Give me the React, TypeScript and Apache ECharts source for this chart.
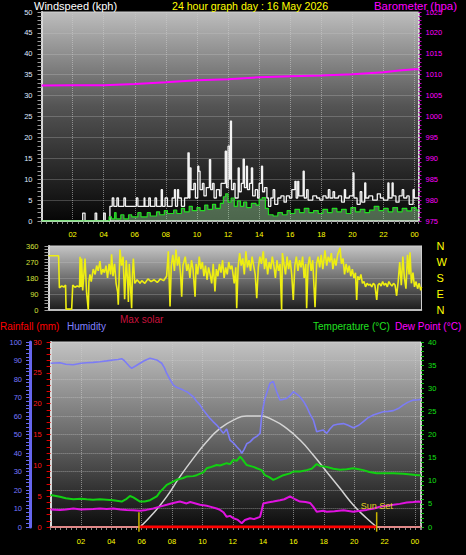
import React, { useEffect, useRef } from "react";
import * as echarts from "echarts";

// ---------- data ----------
const titleText = "24 hour graph day : 16 May 2026";

// wind gust (kph) [hour, value]
const windGust: [number, number][] = [
  [0, 0], [2.65, 1.9], [2.8, 0], [3.45, 1.9], [3.55, 0], [4.0, 1.9], [4.1, 0], [4.4, 3.5], [4.55, 5.5], [4.65, 3.5],
  [4.85, 5.5], [4.95, 3.5], [5.3, 5.5], [5.4, 3.5], [5.9, 3.5], [6.1, 5.5], [6.2, 3.5], [6.6, 5.5], [6.65, 3.5], [6.9, 5.5],
  [7.0, 3.5], [7.3, 5.5], [7.4, 3.5], [7.7, 7.5], [7.78, 3.5], [7.95, 5.5], [8.1, 3.5], [8.4, 5.5], [8.55, 7.5], [8.62, 3.5],
  [8.75, 7.5], [8.82, 5.5], [9.0, 3.5], [9.2, 5.5], [9.42, 16.3], [9.5, 5.5], [9.55, 12.7], [9.62, 7.5], [9.8, 9], [9.9, 5.5],
  [10.05, 13.1], [10.12, 11.9], [10.2, 7.5], [10.35, 9], [10.45, 6], [10.6, 8], [10.8, 14.7], [10.88, 7.5], [11.0, 9], [11.1, 5.5],
  [11.25, 7.5], [11.45, 6], [11.55, 9], [11.82, 16.7], [11.9, 8], [12.0, 17.9], [12.1, 10], [12.15, 23.9], [12.22, 7.5], [12.35, 9],
  [12.45, 5.5], [12.65, 12.7], [12.72, 7], [12.85, 9], [12.97, 14.8], [13.05, 8], [13.18, 13.1], [13.25, 7.5], [13.38, 9], [13.5, 12.7],
  [13.58, 6], [13.75, 7.5], [13.9, 5.5], [14.0, 9], [14.15, 13.1], [14.22, 7], [14.35, 8], [14.5, 5.5], [14.6, 3.5], [14.75, 5.5],
  [14.9, 7.5], [15.0, 4], [15.2, 5.5], [15.4, 6], [15.6, 4.5], [15.75, 6], [15.95, 5.5], [16.1, 7.5], [16.3, 9.5], [16.38, 5.5],
  [16.48, 9.5], [16.55, 6], [16.83, 11.9], [16.9, 5.5], [17.05, 7.5], [17.15, 5], [17.45, 6], [17.7, 5.5], [17.9, 5], [18.1, 6],
  [18.3, 5.5], [18.45, 7.5], [18.55, 5.5], [18.75, 7], [18.85, 5.5], [19.1, 6], [19.3, 4.5], [19.48, 7.5], [19.56, 5.5], [19.8, 6],
  [20.04, 11.5], [20.1, 5.5], [20.3, 4], [20.5, 7], [20.6, 4.5], [20.79, 9.1], [20.86, 5.5], [21.05, 6], [21.3, 5], [21.6, 6.5],
  [21.8, 5.5], [22.0, 5], [22.28, 9.1], [22.35, 5.5], [22.55, 9.1], [22.62, 6], [22.8, 4.5], [23.0, 6], [23.2, 7.5], [23.3, 5.5],
  [23.5, 6], [23.65, 4], [23.9, 7.5], [23.98, 5.5], [24.25, 5.5],
];

// average wind (kph)
const windAvg: [number, number][] = [
  [0, 0], [4.35, 1], [4.5, 0.5], [4.7, 2], [4.8, 0.5], [5.1, 1.5], [5.3, 0.5], [5.6, 1.5], [5.8, 1], [6.2, 2],
  [6.4, 1], [6.8, 2], [7.0, 1.2], [7.4, 2.2], [7.6, 1.5], [7.9, 2.5], [8.1, 1.8], [8.5, 2.6], [8.7, 1.8], [9.0, 3],
  [9.2, 2.2], [9.5, 3.5], [9.7, 2.5], [10.0, 3.2], [10.2, 2.5], [10.5, 3.8], [10.7, 2.8], [11.0, 4], [11.2, 3], [11.5, 4.2],
  [11.7, 5.8], [11.85, 6.5], [12.0, 4.5], [12.2, 5.5], [12.4, 3.5], [12.6, 4.8], [12.8, 3.5], [13.0, 4.5], [13.2, 3.2], [13.5, 4.2],
  [13.8, 3.8], [14.0, 5.2], [14.2, 5.6], [14.4, 3], [14.6, 1.5], [14.9, 1.2], [15.2, 2], [15.5, 1.5], [15.8, 2.5], [16.0, 1.8],
  [16.3, 2.8], [16.6, 2], [16.9, 3], [17.2, 2], [17.5, 2.5], [17.8, 1.8], [18.1, 2.8], [18.4, 2], [18.7, 3], [19.0, 2.2],
  [19.3, 2.8], [19.6, 1.8], [19.9, 3.2], [20.2, 2.2], [20.5, 2.8], [20.8, 2], [21.1, 2.6], [21.4, 3.5], [21.7, 2.5], [22.0, 3],
  [22.3, 2.2], [22.6, 3.2], [22.9, 2.2], [23.2, 3], [23.5, 2.4], [23.8, 3.2], [24.1, 2.6], [24.25, 2.6],
];

// barometer (hPa)
const barometer: [number, number][] = [
  [0, 1007.4], [2, 1007.45], [4, 1007.5], [6, 1007.8], [8, 1008.2], [10, 1008.7], [12, 1008.9], [14, 1009.4],
  [16, 1009.6], [18, 1009.8], [20, 1010.1], [22, 1010.6], [23, 1011.0], [24, 1011.3], [24.25, 1011.3],
];

// wind direction (degrees)
const windDir: [number, number][] = [
  [0, 305], [0.65, 305], [0.7, 125], [0.85, 135], [1.0, 130], [1.1, 140], [1.13, 5], [1.49, 5], [1.56, 140], [1.7, 128],
  [1.85, 135], [2.0, 130], [2.03, 300], [2.1, 130], [2.13, 290], [2.2, 110], [2.35, 290], [2.45, 100], [2.56, 0], [2.6, 160],
  [2.67, 200], [2.75, 160], [2.88, 230], [3.0, 200], [3.1, 250], [3.2, 220], [3.31, 275], [3.4, 200], [3.5, 230], [3.6, 210],
  [3.7, 250], [3.8, 180], [3.9, 260], [4.0, 200], [4.06, 313], [4.15, 190], [4.25, 260], [4.35, 150], [4.45, 100], [4.49, 30],
  [4.55, 200], [4.6, 340], [4.7, 250], [4.8, 300], [4.9, 60], [5.0, 280], [5.1, 150], [5.14, 45], [5.2, 260], [5.35, 10],
  [5.4, 200], [5.46, 290], [5.55, 150], [5.7, 170], [5.89, 150], [6.0, 165], [6.2, 150], [6.4, 175], [6.6, 160], [6.8, 170],
  [7.0, 155], [7.2, 175], [7.4, 165], [7.6, 190], [7.71, 330], [7.82, 20], [7.9, 250], [8.0, 310], [8.1, 220], [8.2, 340],
  [8.3, 250], [8.4, 300], [8.5, 200], [8.57, 75], [8.65, 250], [8.8, 300], [8.9, 220], [9.0, 260], [9.1, 180], [9.2, 280],
  [9.3, 230], [9.43, 75], [9.5, 260], [9.6, 200], [9.7, 300], [9.8, 230], [9.9, 270], [10.0, 190], [10.1, 250], [10.2, 170],
  [10.3, 240], [10.4, 200], [10.5, 150], [10.6, 260], [10.71, 105], [10.8, 230], [10.9, 190], [11.0, 260], [11.1, 210], [11.2, 280],
  [11.3, 180], [11.4, 240], [11.5, 200], [11.6, 270], [11.7, 230], [11.8, 250], [11.95, 150], [12.05, 240], [12.11, 10], [12.2, 240],
  [12.3, 320], [12.4, 250], [12.5, 290], [12.6, 200], [12.7, 330], [12.8, 240], [12.9, 280], [13.0, 220], [13.1, 300], [13.2, 250],
  [13.3, 200], [13.4, 66], [13.5, 240], [13.6, 300], [13.7, 260], [13.82, 330], [13.9, 230], [14.0, 290], [14.1, 200], [14.2, 270],
  [14.3, 230], [14.4, 300], [14.5, 250], [14.6, 180], [14.7, 280], [14.8, 220], [14.9, 260], [15.0, 0], [15.05, 320], [15.15, 260],
  [15.25, 200], [15.35, 300], [15.45, 230], [15.55, 280], [15.65, 200], [15.75, 57], [15.85, 250], [15.95, 300], [16.05, 220], [16.15, 280],
  [16.25, 240], [16.35, 300], [16.45, 180], [16.55, 260], [16.61, 10], [16.7, 250], [16.8, 300], [16.9, 220], [17.0, 280], [17.15, 15],
  [17.25, 260], [17.35, 300], [17.45, 240], [17.55, 310], [17.65, 230], [17.79, 335], [17.9, 250], [18.0, 300], [18.1, 270], [18.2, 320],
  [18.3, 230], [18.4, 290], [18.5, 250], [18.6, 310], [18.76, 350], [18.85, 260], [18.95, 290], [19.05, 200], [19.15, 260], [19.25, 210],
  [19.35, 250], [19.45, 190], [19.55, 230], [19.65, 180], [19.75, 210], [19.83, 57], [19.9, 190], [20.0, 170], [20.1, 200], [20.2, 150],
  [20.3, 160], [20.4, 130], [20.5, 150], [20.6, 140], [20.7, 145], [20.8, 130], [20.9, 150], [21.0, 140], [21.12, 57], [21.2, 140],
  [21.3, 150], [21.4, 135], [21.5, 160], [21.6, 140], [21.7, 150], [21.8, 130], [21.9, 160], [22.0, 145], [22.1, 135], [22.2, 150],
  [22.3, 140], [22.4, 80], [22.5, 160], [22.6, 270], [22.7, 140], [22.8, 300], [22.9, 180], [23.0, 120], [23.1, 310], [23.2, 200],
  [23.26, 325], [23.35, 150], [23.45, 210], [23.55, 130], [23.65, 160], [23.75, 120], [23.85, 150], [23.95, 110], [24.0, 130],
];

// humidity (%)
const humidity: [number, number][] = [
  [0, 88.5], [0.62, 88.8], [1.0, 88], [1.5, 87.7], [2.0, 88.5], [2.38, 88.8], [2.8, 89], [3.25, 89.3], [3.7, 89.8], [4.13, 90.3],
  [4.45, 90.5], [4.68, 91], [4.85, 90], [5.01, 88.5], [5.23, 86.5], [5.34, 85.8], [5.6, 87], [5.89, 88.5], [6.2, 90], [6.55, 91.2],
  [6.99, 90.3], [7.32, 88.5], [7.5, 86], [7.65, 83], [7.85, 80], [8.08, 76.8], [8.3, 75.5], [8.74, 74], [9.0, 73], [9.4, 70.4],
  [9.62, 68], [9.84, 66], [10.06, 63.2], [10.28, 61], [10.5, 58.7], [10.7, 57], [10.94, 55.1], [11.16, 53], [11.38, 50.6], [11.6, 53],
  [11.82, 47], [12.04, 45.5], [12.26, 43.4], [12.48, 41.5], [12.59, 39.8], [12.75, 42], [12.92, 45], [13.14, 46], [13.36, 47.9], [13.58, 49],
  [13.8, 50.6], [13.9, 59.6], [14.01, 65], [14.12, 69.5], [14.3, 74], [14.45, 77.7], [14.67, 78.6], [14.9, 73], [15.11, 68.6], [15.33, 69],
  [15.55, 69.5], [15.77, 71], [15.99, 73.1], [16.2, 72], [16.43, 70.4], [16.65, 68], [16.87, 65], [17.09, 61], [17.31, 57.8], [17.53, 51.5],
  [17.75, 52], [17.97, 52.4], [18.19, 50.6], [18.4, 53], [18.63, 55], [18.9, 55.5], [19.29, 55.9], [19.6, 55], [19.94, 53.7], [20.3, 55],
  [20.6, 57], [20.9, 59], [21.26, 60.5], [21.6, 61.5], [21.92, 62.3], [22.25, 62.5], [22.58, 62.9], [22.9, 64], [23.24, 66], [23.55, 67.5],
  [23.9, 68.6], [24.23, 68.8], [24.4, 69],
];

// temperature (°C)
const temperature: [number, number][] = [
  [0, 6.9], [0.62, 6.55], [1.0, 6.2], [1.5, 6.0], [2.0, 6.1], [2.38, 6.0], [2.8, 5.9], [3.25, 6.0], [3.7, 5.9], [4.13, 5.8],
  [4.68, 5.5], [5.01, 6.1], [5.23, 6.7], [5.45, 6.4], [5.89, 5.5], [6.2, 5.5], [6.55, 5.8], [6.99, 6.6], [7.21, 7.6], [7.45, 8.4],
  [7.65, 9.1], [8.08, 9.8], [8.3, 10.2], [8.74, 10.6], [8.96, 10.9], [9.4, 11.0], [9.62, 11.2], [10.06, 11.8], [10.28, 12.7], [10.5, 12.9],
  [10.94, 13.4], [11.16, 13.3], [11.6, 13.8], [11.82, 13.6], [12.04, 14.5], [12.26, 14.3], [12.48, 15.2], [12.6, 14.8], [12.92, 13.4], [13.36, 13.0],
  [13.58, 12.7], [13.9, 12.3], [14.12, 11.2], [14.4, 10.8], [14.67, 10.2], [14.9, 10.5], [15.33, 11.2], [15.77, 11.6], [15.99, 12.0], [16.43, 12.0],
  [16.87, 12.3], [17.2, 12.6], [17.53, 13.6], [17.75, 13.2], [18.19, 13.0], [18.63, 12.6], [19.07, 12.4], [19.5, 12.5], [19.94, 12.7], [20.3, 12.5],
  [20.6, 12.3], [21.0, 11.9], [21.48, 11.6], [21.92, 11.6], [22.58, 11.6], [23.24, 11.5], [23.9, 11.3], [24.23, 11.2], [24.4, 11.2],
];

// dew point (°C)
const dewPoint: [number, number][] = [
  [0, 3.8], [0.62, 3.7], [1.0, 3.8], [1.5, 4.0], [2.0, 3.8], [2.38, 3.85], [2.8, 3.9], [3.25, 4.0], [3.7, 3.9], [4.13, 4.0],
  [4.6, 3.8], [5.01, 3.7], [5.45, 3.6], [5.89, 3.5], [6.3, 3.7], [6.77, 4.0], [7.2, 4.4], [7.65, 4.8], [8.08, 5.2], [8.52, 5.5],
  [8.96, 5.1], [9.2, 5.4], [9.84, 4.8], [10.28, 4.6], [10.5, 4.4], [10.94, 4.0], [11.16, 3.7], [11.38, 3.2], [11.6, 2.2], [11.82, 2.4],
  [12.04, 1.9], [12.3, 1.6], [12.59, 0.8], [12.8, 1.5], [13.14, 1.9], [13.4, 1.7], [13.8, 2.2], [13.9, 3.5], [14.01, 5.1], [14.3, 5.3],
  [14.67, 5.5], [15.11, 5.8], [15.4, 6.0], [15.77, 6.6], [16.1, 6.0], [16.43, 5.5], [16.8, 5.4], [17.09, 5.2], [17.3, 4.4], [17.53, 3.3],
  [17.97, 3.5], [18.19, 3.3], [18.7, 3.4], [19.29, 3.6], [19.94, 3.3], [20.4, 3.5], [20.82, 3.7], [21.3, 4.0], [21.7, 4.4], [22.1, 4.6],
  [22.58, 4.8], [23.0, 5.0], [23.46, 5.3], [23.9, 5.4], [24.23, 5.5], [24.4, 5.4],
];

// max solar curve (on the humidity scale)
const maxSolar: [number, number][] = [
  [5.9, 0], [6.77, 7.4], [7.65, 16.4], [8.52, 27.2], [9.4, 37.1], [10.28, 46.1], [11.16, 53.3], [12.04, 57.8], [12.91, 60],
  [13.79, 60], [14.67, 57.8], [15.55, 53.3], [16.43, 47], [17.3, 38.9], [18.18, 29.9], [19.06, 20.9], [19.94, 11.9], [20.82, 4.7], [21.48, 0],
];

// rainfall (mm)
const rainfall: [number, number][] = [[0, 0], [6, 0], [12, 0], [18, 0], [24.4, 0]];

const sunRise = 5.82;
const sunSet = 21.48;
const compass: Record<number, string> = { 0: "N", 90: "E", 180: "S", 270: "W", 360: "N" };

// ---------- chart ----------
const FONT = '"Liberation Sans", Arial, sans-serif';

function bg(stops: [number, string][]) {
  return new echarts.graphic.LinearGradient(0, 0, 0, 1, stops.map(([offset, color]) => ({ offset, color })));
}

const dotted = { show: true, lineStyle: { type: "dotted" as const, color: "rgba(205,205,205,0.55)", width: 1 } };

function hourLabel(v: number) {
  if (Math.abs(v % 2) > 1e-6) return "";
  return String(v % 24).padStart(2, "0");
}

const plain = (v: number) => String(v);

export default function App() {
  const ref = useRef<HTMLDivElement>(null);

  useEffect(() => {
    document.body.style.margin = "0";
    document.body.style.background = "#000";
    const chart = echarts.init(ref.current!, undefined, { renderer: "svg" });

    const tickLbl = (color: string, margin: number) => ({
      color, fontSize: 7.5, fontFamily: FONT, margin, formatter: plain,
    });

    const option: any = {
      animation: false,
      backgroundColor: "#000",
      textStyle: { fontFamily: FONT },
      grid: [
        {
          left: 41.5, top: 12, width: 377, height: 209, show: true,
          backgroundColor: bg([[0, "#bdbdbd"], [0.45, "#545454"], [1, "#060606"]]),
          borderColor: "#cfcfcf", borderWidth: 1,
        },
        {
          left: 48.5, top: 246, width: 373, height: 64, show: true,
          backgroundColor: bg([[0, "#c4c4c4"], [0.5, "#707070"], [1, "#1c1c1c"]]),
          borderColor: "#cfcfcf", borderWidth: 1,
        },
        {
          left: 50.6, top: 342, width: 370.4, height: 185, show: true,
          backgroundColor: bg([[0, "#c2c2c2"], [0.5, "#6a6a6a"], [1, "#0c0c0c"]]),
          borderColor: "#cfcfcf", borderWidth: 1,
        },
      ],
      xAxis: [
        {
          type: "value", gridIndex: 0, min: 0, max: 24.25, interval: 2,
          axisLine: { show: true, onZero: false, lineStyle: { color: "#cfcfcf", width: 1.5 } },
          axisTick: { show: true, length: 3, lineStyle: { color: "#8a8a8a" } },
          minorTick: { show: true, splitNumber: 6, length: 3, lineStyle: { color: "#8a8a8a" } },
          axisLabel: { ...tickLbl("#ffff00", 9), formatter: hourLabel, showMinLabel: false },
          splitLine: dotted,
        },
        {
          type: "value", gridIndex: 1, min: 0, max: 24,
          axisLine: { show: true, onZero: false, lineStyle: { color: "#cfcfcf", width: 1.5 } },
          axisTick: { show: false }, axisLabel: { show: false }, splitLine: { show: false },
        },
        {
          type: "value", gridIndex: 2, min: 0, max: 24.4, interval: 2,
          axisLine: { show: true, onZero: false, lineStyle: { color: "#cfcfcf", width: 2 } },
          axisTick: { show: true, length: 3, lineStyle: { color: "#8a8a8a" } },
          minorTick: { show: true, splitNumber: 6, length: 3, lineStyle: { color: "#8a8a8a" } },
          axisLabel: { ...tickLbl("#ffff00", 10), formatter: hourLabel, showMinLabel: false },
          splitLine: dotted,
        },
      ],
      yAxis: [
        {
          type: "value", gridIndex: 0, position: "left", min: 0, max: 50, interval: 5,
          axisLine: { show: true, lineStyle: { color: "#d8d8d8", width: 2 } },
          axisTick: { show: true, length: 4, lineStyle: { color: "#9a9a9a" } },
          minorTick: { show: true, splitNumber: 5, length: 4, lineStyle: { color: "#9a9a9a" } },
          axisLabel: tickLbl("#dfe8ff", 9),
          splitLine: dotted,
        },
        {
          type: "value", gridIndex: 0, position: "right", min: 975, max: 1025, interval: 5,
          axisLine: { show: true, lineStyle: { color: "#e6e6e6", type: "dotted", width: 1.5 } },
          axisTick: { show: true, length: 3, lineStyle: { color: "#c000c0" } },
          minorTick: { show: true, splitNumber: 5, length: 3, lineStyle: { color: "#c000c0" } },
          axisLabel: tickLbl("#ff00ff", 7),
          splitLine: { show: false },
        },
        {
          type: "value", gridIndex: 1, position: "left", min: 0, max: 360, interval: 90,
          axisLine: { show: true, lineStyle: { color: "#d8d8d8", width: 2 } },
          axisTick: { show: true, length: 4, lineStyle: { color: "#9a9a9a" } },
          minorTick: { show: true, splitNumber: 5, length: 4, lineStyle: { color: "#9a9a9a" } },
          axisLabel: tickLbl("#d6e23a", 10),
          splitLine: dotted,
        },
        {
          type: "value", gridIndex: 1, position: "right", min: 0, max: 360, interval: 90,
          axisLine: { show: true, lineStyle: { color: "#cfcfcf", width: 1 } },
          axisTick: { show: false },
          axisLabel: { color: "#ffff00", fontSize: 11, fontFamily: FONT, margin: 15, formatter: (v: number) => compass[v] ?? "" },
          splitLine: { show: false },
        },
        {
          type: "value", gridIndex: 2, position: "left", min: 0, max: 30, interval: 5,
          axisLine: { show: true, lineStyle: { color: "#d8d8d8", width: 2 } },
          axisTick: { show: true, length: 4, lineStyle: { color: "#e00000" } },
          minorTick: { show: true, splitNumber: 5, length: 4, lineStyle: { color: "#e00000" } },
          axisLabel: tickLbl("#ff1a1a", 9),
          splitLine: { show: false },
        },
        {
          type: "value", gridIndex: 2, position: "left", offset: 20.6, min: 0, max: 100, interval: 10,
          axisLine: { show: true, lineStyle: { color: "#6666ee", width: 3 } },
          axisTick: { show: true, length: 4, lineStyle: { color: "#6666ee" } },
          minorTick: { show: true, splitNumber: 5, length: 4, lineStyle: { color: "#6666ee" } },
          axisLabel: tickLbl("#7777ff", 8),
          splitLine: dotted,
        },
        {
          type: "value", gridIndex: 2, position: "right", min: 0, max: 40, interval: 5,
          axisLine: { show: true, lineStyle: { color: "#e6e6e6", type: "dotted", width: 1.5 } },
          axisTick: { show: true, length: 3, lineStyle: { color: "#10c010" } },
          minorTick: { show: true, splitNumber: 5, length: 3, lineStyle: { color: "#10c010" } },
          axisLabel: tickLbl("#14e014", 7),
          splitLine: { show: false },
        },
      ],
      series: [
        {
          name: "Wind avg", type: "line", xAxisIndex: 0, yAxisIndex: 0, data: windAvg, step: "end",
          showSymbol: false, lineStyle: { color: "#22dd22", width: 1.2 },
          areaStyle: { color: "rgba(175,235,175,0.6)" }, z: 3,
        },
        {
          name: "Gust", type: "line", xAxisIndex: 0, yAxisIndex: 0, data: windGust, step: "end",
          showSymbol: false, lineStyle: { color: "#f2f2f2", width: 1.3 }, z: 2,
        },
        {
          name: "Barometer", type: "line", xAxisIndex: 0, yAxisIndex: 1, data: barometer,
          showSymbol: false, lineStyle: { color: "#ff00ff", width: 2 },
        },
        {
          name: "Direction", type: "line", xAxisIndex: 1, yAxisIndex: 2, data: windDir,
          showSymbol: false, lineStyle: { color: "#eeee12", width: 1.6 },
        },
        {
          name: "Max solar", type: "line", xAxisIndex: 2, yAxisIndex: 5, data: maxSolar, smooth: true,
          showSymbol: false, lineStyle: { color: "#d4d4d4", width: 1.5 },
        },
        {
          name: "Rainfall", type: "line", xAxisIndex: 2, yAxisIndex: 4, data: rainfall,
          showSymbol: false, lineStyle: { color: "#e08888", width: 2 },
        },
        {
          name: "Daylight", type: "line", xAxisIndex: 2, yAxisIndex: 4, data: [[sunRise, 0], [sunSet, 0]],
          showSymbol: false, lineStyle: { color: "#ff0000", width: 3 },
        },
        {
          name: "Sunrise", type: "line", xAxisIndex: 2, yAxisIndex: 5, data: [[sunRise, -2.5], [sunRise, 8]],
          showSymbol: false, clip: false, lineStyle: { color: "#c8b400", width: 1.5 },
        },
        {
          name: "Sunset", type: "line", xAxisIndex: 2, yAxisIndex: 5, clip: false,
          data: [[sunSet, -2.5], { value: [sunSet, 8], label: { show: true, formatter: "Sun Set", position: "top", distance: 1, color: "#e2d020", fontSize: 9, fontFamily: FONT } }],
          symbol: "circle", symbolSize: 0.5, showSymbol: true, itemStyle: { color: "#c8b400" },
          lineStyle: { color: "#c8b400", width: 1.5 },
        },
        {
          name: "Humidity", type: "line", xAxisIndex: 2, yAxisIndex: 5, data: humidity,
          showSymbol: false, lineStyle: { color: "#7c7cf6", width: 1.6 },
        },
        {
          name: "Temperature", type: "line", xAxisIndex: 2, yAxisIndex: 6, data: temperature,
          showSymbol: false, lineStyle: { color: "#12d012", width: 2 },
        },
        {
          name: "Dew Point", type: "line", xAxisIndex: 2, yAxisIndex: 6, data: dewPoint,
          showSymbol: false, lineStyle: { color: "#e012e0", width: 2 },
        },
      ],
      graphic: [
        { type: "text", left: 34, top: 0, style: { text: "Windspeed (kph)", fill: "#ffffff", font: `11px ${FONT}` } },
        { type: "text", left: 172, top: 0, style: { text: titleText, fill: "#ffff00", font: `10.6px ${FONT}` } },
        { type: "text", left: 374, top: 0, style: { text: "Barometer (hpa)", fill: "#ff00ff", font: `11.4px ${FONT}` } },
        { type: "text", left: 0, top: 321, style: { text: "Rainfall (mm)", fill: "#ff0000", font: `10px ${FONT}` } },
        { type: "text", left: 67, top: 321, style: { text: "Humidity", fill: "#8080ff", font: `10px ${FONT}` } },
        { type: "text", left: 120, top: 314, style: { text: "Max solar", fill: "#c8123c", font: `10px ${FONT}` } },
        { type: "text", left: 313, top: 321, style: { text: "Temperature (°C)", fill: "#20e020", font: `10px ${FONT}` } },
        { type: "text", left: 395, top: 321, style: { text: "Dew Point (°C)", fill: "#ff00ff", font: `10px ${FONT}` } },
      ],
    };

    chart.setOption(option);
    return () => chart.dispose();
  }, []);

  return <div ref={ref} style={{ width: 466, height: 555, background: "#000" }} />;
}
